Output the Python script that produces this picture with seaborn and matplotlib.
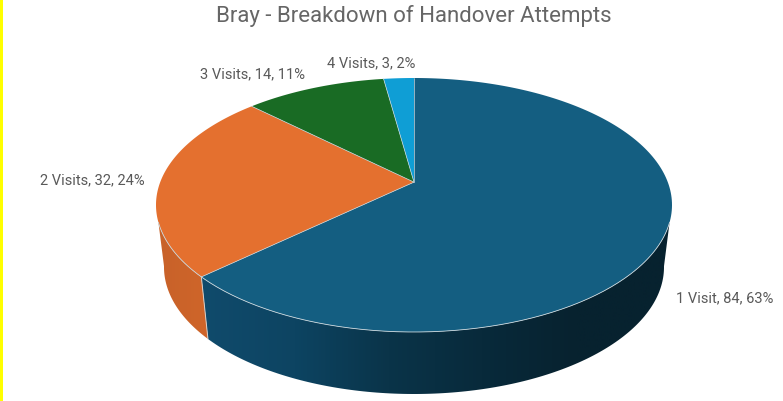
import numpy as np
import pandas as pd
import seaborn as sns
import matplotlib.pyplot as plt
from matplotlib.patches import Polygon, Rectangle

# Chart data
categories = ["1 Visit", "2 Visits", "3 Visits", "4 Visits"]
visits = [84, 32, 14, 3]
percents = [63, 24, 11, 2]
colors = ["#145E81", "#E4702F", "#196B24", "#0F9ED5"]

df = pd.DataFrame({"category": categories, "visits": visits, "percent": percents})
df["label"] = df["category"] + ", " + df["visits"].astype(str) + ", " + df["percent"].astype(str) + "%"

sns.set_theme(style="white")
plt.rcParams["font.family"] = ["Roboto", "DejaVu Sans"]

W, H = 783, 402
fig = plt.figure(figsize=(W / 100, H / 100), dpi=100)
ax = fig.add_axes([0, 0, 1, 1])

# ellipses in pixels, top face and bottom of the side wall
cx, cy_top, rx_top, ry_top = 414, 206, 258, 127
cy_bot, rx_bot, ry_bot = 268, 250, 127
p = 0.18  # perspective, puts the centre of the pie above the middle of the ellipse


def rim(theta, cy, rx, ry):
    # theta is clockwise from 12 o'clock, on the real (round) pie
    X, Y = np.sin(theta), np.cos(theta)
    w = 1 + p * Y
    return cx + rx * np.sqrt(1 - p**2) * X / w, cy - ry * (Y + p) / w


edges = 2 * np.pi * np.concatenate([[0], np.cumsum(df["visits"])]) / df["visits"].sum()
apex = rim(0, cy_top, rx_top, 0)[0], cy_top - ry_top * p


# side wall: gradient image clipped to the wall outline
def side(top_range, bot_range, stops):
    xa, ya = rim(np.linspace(*top_range, 150), cy_top, rx_top, ry_top)
    xb, yb = rim(np.linspace(*bot_range, 150), cy_bot, rx_bot, ry_bot)
    outline = Polygon(np.c_[np.r_[xa, xb[::-1]], np.r_[ya, yb[::-1]]], transform=ax.transData,
                      facecolor="none", edgecolor="none")
    ax.add_patch(outline)
    x0, x1 = min(xa.min(), xb.min()), max(xa.max(), xb.max())
    grad = np.array(sns.blend_palette(stops, 256))[None, :, :]
    im = ax.imshow(grad, extent=(x0, x1, H, 0), aspect="auto", zorder=2, interpolation="bilinear")
    im.set_clip_path(outline)


side((edges[1], np.radians(108)), (edges[1], np.radians(100)),
     ["#104B6C", "#0D4462", "#0A3449", "#082A3B", "#07222F", "#07222F"])
side((np.radians(252), edges[1]), (np.radians(260), edges[1]), ["#C8622A", "#CF6529"])

# top face
for i, row in df.iterrows():
    ts = np.linspace(edges[i], edges[i + 1], 200)
    xs, ys = rim(ts, cy_top, rx_top, ry_top)
    ax.fill(np.r_[apex[0], xs], np.r_[apex[1], ys], facecolor=colors[i], lw=0, zorder=3)
    xe, ye = rim(edges[i], cy_top, rx_top, ry_top)
    ax.plot([apex[0], xe], [apex[1], ye], color="#C9D6DC", lw=0.5, zorder=4)

# light line on the front rim and on the seam
xs, ys = rim(np.linspace(np.radians(108), np.radians(252), 200), cy_top, rx_top, ry_top)
ax.plot(xs, ys, color="#C9D6DC", lw=0.6, zorder=4)
xa, ya = rim(edges[1], cy_top, rx_top, ry_top)
xb, yb = rim(edges[1], cy_bot, rx_bot, ry_bot)
ax.plot([xa, xb], [ya, yb], color="#D8CFC8", lw=0.7, zorder=4)

# yellow frame
ax.add_patch(Rectangle((0, 0), 3, H, color="#FFFF00", lw=0, zorder=5))
ax.add_patch(Rectangle((0, 0), W, 1, color="#FFFF00", lw=0, zorder=5))

ax.text(414, 16, "Bray - Breakdown of Handover Attempts", ha="center", va="center",
        fontsize=16, color="#666666")

label_pos = [(725, 298), (92, 180), (253, 74), (371, 63)]
for (x, y), text in zip(label_pos, df["label"]):
    ax.text(x, y, text, ha="center", va="center", fontsize=10.5, color="#595959")

ax.set_xlim(0, W)
ax.set_ylim(H, 0)
ax.axis("off")

plt.savefig("out.png", dpi=100)
